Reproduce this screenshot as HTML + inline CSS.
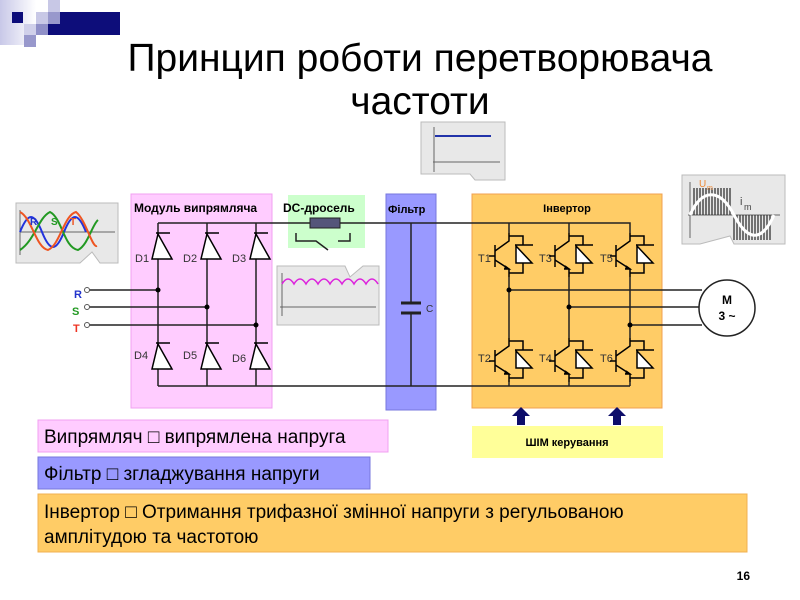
<!DOCTYPE html>
<html><head><meta charset="utf-8"><style>
body{margin:0;background:#fff;width:800px;height:600px;overflow:hidden}
svg{display:block;font-family:"Liberation Sans",sans-serif}
</style></head><body>
<svg width="800" height="600" viewBox="0 0 800 600" xmlns="http://www.w3.org/2000/svg">
<defs>
<linearGradient id="gl" x1="0" x2="1"><stop offset="0" stop-color="#c8c8e8"/><stop offset="1" stop-color="#fff"/></linearGradient>
<g id="igbt" stroke="#000" stroke-width="1.5" fill="none">
 <path d="M0,0 V8 L-14,18"/>
 <path d="M-14,12 V34"/>
 <path d="M-20,23 H-14"/>
 <path d="M-14,27 L0,36 V44"/>
 <path d="M-4,33 L0,36 L-5,36" fill="#000"/>
 <path d="M0,3 H14 V12 M6,12 H24 M14,30 V40 H0"/>
 <polygon points="7,13 7,30 23,30" fill="#fff"/>
</g>
<g id="dio" stroke="#000" stroke-width="1.5" fill="none">
 <path d="M-2,-14 H12"/><polygon points="0,-13 -6,12 14,12" fill="#fff"/>
</g>
</defs>
<rect x="0" y="0" width="36" height="45" fill="url(#gl)"/>
<rect x="48" y="12" width="72" height="23" fill="#0d0d7a"/>
<rect x="12" y="12" width="11" height="11" fill="#0d0d7a"/>
<rect x="36" y="12" width="12" height="12" fill="#c8c8e6"/>
<rect x="48" y="0" width="12" height="12" fill="#c8c8e6"/>
<rect x="48" y="12" width="12" height="12" fill="#9898cc"/>
<rect x="36" y="24" width="12" height="11" fill="#9090c8"/>
<rect x="24" y="24" width="12" height="11" fill="#d0d0ea"/>
<rect x="24" y="35" width="12" height="12" fill="#9898cc"/>
<text x="420" y="71" font-size="39" text-anchor="middle">Принцип роботи перетворювача</text>
<text x="420" y="114" font-size="39" text-anchor="middle">частоти</text>

<rect x="131" y="194" width="141" height="214" fill="#ffccff" stroke="#f0a0f0"/>
<rect x="288" y="195" width="77" height="53" fill="#ccffcc"/>
<rect x="386" y="194" width="50" height="216" fill="#9999ff" stroke="#7777dd"/>
<rect x="472" y="194" width="190" height="214" fill="#ffcc66" stroke="#f0a050"/>
<text x="134" y="212" font-size="12" font-weight="bold">Модуль випрямляча</text>
<text x="283" y="212" font-size="12" font-weight="bold">DC-дросель</text>
<text x="388" y="213" font-size="11" font-weight="bold">Фільтр</text>
<text x="567" y="212" font-size="11" font-weight="bold" text-anchor="middle">Інвертор</text>

<g stroke="#222" stroke-width="1.5" fill="none">
<path d="M158,223 H310 M340,223 H630 V233 M509,223 V233 M569,223 V233"/>
<path d="M158,386 H630 M158,223 V386 M207,223 V386 M256,223 V386"/>
<path d="M88,290 H158 M88,307 H207 M88,325 H256"/>
<path d="M411,223 V303 M411,313 V386"/>
<path d="M509,277 V338 M569,277 V338 M630,277 V338 M509,382 V386 M569,382 V386 M630,382 V386"/>
<path d="M509,290 H702 M569,307 H699 M630,325 H702"/>
<path d="M296,233 V241 H316 L328,250 M338,241 H350 V233"/>
</g>
<g fill="#fff" stroke="#555"><circle cx="87" cy="290" r="2.5"/><circle cx="87" cy="307" r="2.5"/><circle cx="87" cy="325" r="2.5"/></g>
<g fill="#000"><circle cx="158" cy="290" r="2.5"/><circle cx="207" cy="307" r="2.5"/><circle cx="256" cy="325" r="2.5"/>
<circle cx="509" cy="290" r="2.5"/><circle cx="569" cy="307" r="2.5"/><circle cx="630" cy="325" r="2.5"/></g>
<rect x="310" y="218" width="30" height="10" fill="#55557a" stroke="#222"/>
<path d="M401,303 H421 M401,313 H421" stroke="#222" stroke-width="3"/>
<text x="426" y="312" font-size="10" fill="#333">C</text>
<text x="74" y="298" font-size="11" font-weight="bold" fill="#2233cc">R</text>
<text x="72" y="315" font-size="11" font-weight="bold" fill="#229922">S</text>
<text x="73" y="332" font-size="11" font-weight="bold" fill="#ee3322">T</text>

<use href="#dio" x="158" y="247"/><use href="#dio" x="207" y="247"/><use href="#dio" x="256" y="247"/>
<use href="#dio" x="158" y="357"/><use href="#dio" x="207" y="357"/><use href="#dio" x="256" y="357"/>
<g font-size="11" fill="#333"><text x="135" y="262">D1</text><text x="183" y="262">D2</text><text x="232" y="262">D3</text>
<text x="134" y="359">D4</text><text x="183" y="359">D5</text><text x="232" y="362">D6</text>
<text x="478" y="262">T1</text><text x="539" y="262">T3</text><text x="600" y="262">T5</text>
<text x="478" y="362">T2</text><text x="539" y="362">T4</text><text x="600" y="362">T6</text></g>

<use href="#igbt" x="509" y="233"/><use href="#igbt" x="569" y="233"/><use href="#igbt" x="630" y="233"/>
<use href="#igbt" x="509" y="338"/><use href="#igbt" x="569" y="338"/><use href="#igbt" x="630" y="338"/>

<circle cx="727" cy="308" r="28" fill="#fff" stroke="#222" stroke-width="1.5"/>
<text x="727" y="304" font-size="12" font-weight="bold" text-anchor="middle">M</text>
<text x="727" y="320" font-size="12" font-weight="bold" text-anchor="middle">3 ~</text>

<path d="M16,203 H118 V263 H100 L92,252 L80,263 H16 Z" fill="#e8e8e8" stroke="#bbb"/>
<path d="M20,232 H115 M20,210 V255" stroke="#666" fill="none"/>
<path d="M20,232 C28,212 34,212 42,232 S56,252 64,232 S78,212 86,232" stroke="#2233dd" stroke-width="2" fill="none"/>
<path d="M20,250 C35,240 38,218 50,212 C62,218 64,248 78,250 C88,245 92,225 98,220" stroke="#229922" stroke-width="2" fill="none"/>
<path d="M20,212 C32,218 36,248 48,250 C60,245 64,215 76,212 C86,220 92,248 97,246" stroke="#ee5522" stroke-width="2" fill="none"/>
<text x="30" y="225" font-size="10" font-weight="bold" fill="#2233cc">R</text>
<text x="51" y="225" font-size="10" font-weight="bold" fill="#229922">S</text>
<text x="70" y="225" font-size="10" font-weight="bold" fill="#ee5522">T</text>

<path d="M277,266 H345 L350,277 L363,266 H379 V325 H277 Z" fill="#e8e8e8" stroke="#bbb"/>
<path d="M282,273 V316 M280,307 H376" stroke="#666" fill="none"/>
<path d="M282,284 q6,-10 12,0 q6,-10 12,0 q6,-10 12,0 q6,-10 12,0 q6,-10 12,0 q6,-10 12,0 q6,-10 12,0 q6,-10 12,0" stroke="#dd22dd" stroke-width="1.5" fill="none"/>

<path d="M421,122 H505 V180 H475 L470,174 H421 Z" fill="#e8e8e8" stroke="#bbb"/>
<path d="M434,127 V172 M433,162 H500" stroke="#666" fill="none"/>
<path d="M435,136 H491" stroke="#2233aa" stroke-width="2"/>

<path d="M682,175 H785 V244 H734 L730,236 L700,244 H682 Z" fill="#e8e8e8" stroke="#bbb"/>
<path d="M690,182 V238 M688,215 H780" stroke="#666" fill="none"/>
<g stroke="#333" stroke-width="1.3">
<path d="M694,188 V215 M697,188 V215 M700,188 V215 M703,188 V215 M706,188 V215 M709,188 V215 M712,188 V215 M715,188 V215 M718,188 V215 M721,188 V215 M724,188 V215 M727,188 V215 M730,188 V215"/>
<path d="M734,215 V240 M737,215 V240 M740,215 V240 M743,215 V240 M746,215 V240 M749,215 V240 M752,215 V240 M755,215 V240 M758,215 V240 M761,215 V240 M764,215 V240 M767,215 V240 M770,215 V240"/>
</g>
<path d="M690,215 C702,188 720,188 734,215 S762,242 774,215" stroke="#fff" stroke-width="3" fill="none"/>
<text x="699" y="187" font-size="10" fill="#ee8833">U</text><text x="707" y="190" font-size="7" fill="#ee8833">m</text>
<text x="740" y="205" font-size="11" fill="#444">i</text><text x="744" y="210" font-size="9" fill="#444">m</text>

<g fill="#0d0d6a"><path d="M517,425 V416 H512 L521,407 L530,416 H525 V425 Z"/><path d="M613,425 V416 H608 L617,407 L626,416 H621 V425 Z"/></g>

<rect x="38" y="420" width="350" height="32" fill="#ffccff" stroke="#f0a0f0"/>
<text x="44" y="443" font-size="19">Випрямляч □ випрямлена напруга</text>
<rect x="38" y="457" width="332" height="32" fill="#9999ff" stroke="#7777dd"/>
<text x="44" y="480" font-size="19">Фільтр □ згладжування напруги</text>
<rect x="38" y="494" width="709" height="58" fill="#ffcc66" stroke="#f0b050"/>
<text x="44" y="518" font-size="19">Інвертор □ Отримання трифазної змінної напруги з регульованою</text>
<text x="44" y="543" font-size="19">амплітудою та частотою</text>
<rect x="472" y="426" width="191" height="32" fill="#ffff99"/>
<text x="567" y="446" font-size="11" font-weight="bold" text-anchor="middle">ШІМ керування</text>
<text x="750" y="580" font-size="12" font-weight="bold" text-anchor="end">16</text>
</svg>
</body></html>
